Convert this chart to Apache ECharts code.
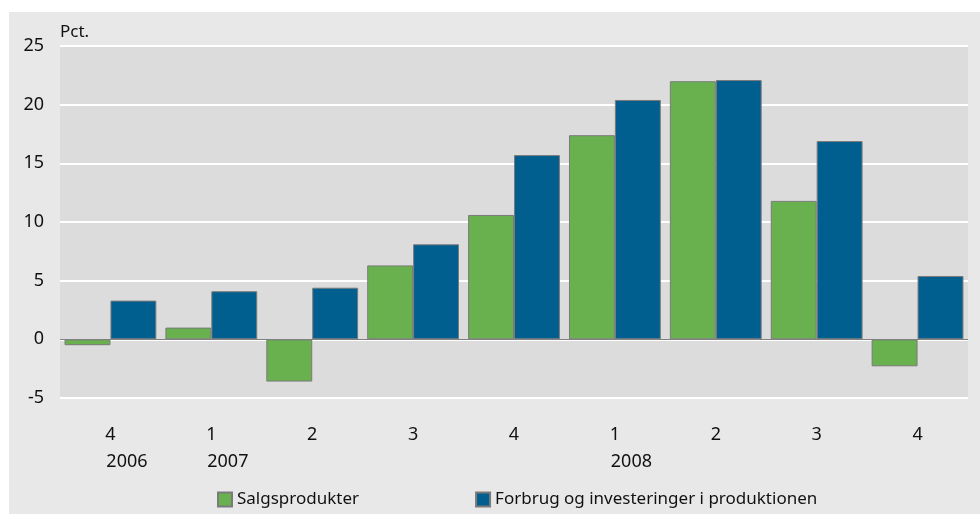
<!DOCTYPE html>
<html>
<head>
<meta charset="utf-8">
<script src="https://cdn.jsdelivr.net/npm/echarts@6/dist/echarts.min.js"></script>
<style>
  html, body { margin: 0; padding: 0; background: #ffffff; }
  #chart { position: absolute; left: 9px; top: 12px; width: 971px; height: 502px; }
</style>
</head>
<body>
<div id="chart"></div>
<script>
// kvartal og år
const quarters = ['4', '1', '2', '3', '4', '1', '2', '3', '4']
const years = ['2006', '2007', '', '', '', '2008', '', '', '']
// Salgsprodukter
const salg = [-0.5, 1.0, -3.6, 6.3, 10.6, 17.4, 22.0, 11.8, -2.3]
// Forbrug og investeringer i produktionen
const forbrug = [3.3, 4.1, 4.4, 8.1, 15.7, 20.4, 22.1, 16.9, 5.4]
const yTicks = { min: -5, max: 25, step: 5 }

const labels = quarters.map((q, i) => years[i] ? q + '\n' + years[i] : q)

const chart = echarts.init(document.getElementById('chart'))
const textColor = '#111111'
const font = 'Noto Sans'

const option = {
  backgroundColor: '#e8e8e8',
  animation: false,
  textStyle: { fontFamily: font, color: textColor },
  grid: {
    left: 51,
    right: 12,
    top: 34,
    bottom: 116,
    show: true,
    backgroundColor: '#dcdcdc',
    borderWidth: 0
  },
  legend: {
    left: 203,
    top: 474,
    itemWidth: 14,
    itemHeight: 14,
    itemGap: 116,
    icon: 'rect',
    textStyle: { fontFamily: font, fontSize: 17, color: textColor },
    data: ['Salgsprodukter', 'Forbrug og investeringer i produktionen']
  },
  xAxis: {
    type: 'category',
    data: labels,
    axisLine: { show: false, onZero: false },
    axisTick: { show: false },
    axisLabel: {
      margin: 23,
      formatter: function (v) {
        const parts = v.split('\n')
        if (parts.length > 1) return '{q|' + parts[0] + '}\n{y|' + parts[1] + '}'
        return '{q|' + parts[0] + '}'
      },
      rich: {
        q: { fontFamily: font, fontSize: 18, color: textColor, lineHeight: 27 },
        y: { fontFamily: font, fontSize: 18, color: textColor, lineHeight: 27, padding: [0, 0, 0, 33] }
      }
    }
  },
  yAxis: {
    type: 'value',
    min: yTicks.min,
    max: yTicks.max,
    interval: yTicks.step,
    name: 'Pct.',
    nameLocation: 'end',
    nameGap: 5,
    nameTextStyle: { fontFamily: font, fontSize: 17, color: textColor, align: 'left', verticalAlign: 'bottom' },
    axisLine: { show: false },
    axisTick: { show: false },
    axisLabel: { margin: 16, fontFamily: font, fontSize: 18, color: textColor },
    splitLine: { lineStyle: { color: '#ffffff', width: 2 } }
  },
  series: [
    {
      name: 'Salgsprodukter',
      type: 'bar',
      data: salg,
      barGap: '0%',
      barCategoryGap: '9%',
      itemStyle: { color: '#69b14f', borderColor: '#7a7a7a', borderWidth: 1 },
      markLine: {
        silent: true,
        symbol: 'none',
        label: { show: false },
        lineStyle: { color: '#808080', type: 'solid', width: 1 },
        data: [{ yAxis: 0 }]
      }
    },
    {
      name: 'Forbrug og investeringer i produktionen',
      type: 'bar',
      data: forbrug,
      itemStyle: { color: '#005f8f', borderColor: '#7a7a7a', borderWidth: 1 }
    }
  ]
}

chart.setOption(option)
</script>
</body>
</html>
